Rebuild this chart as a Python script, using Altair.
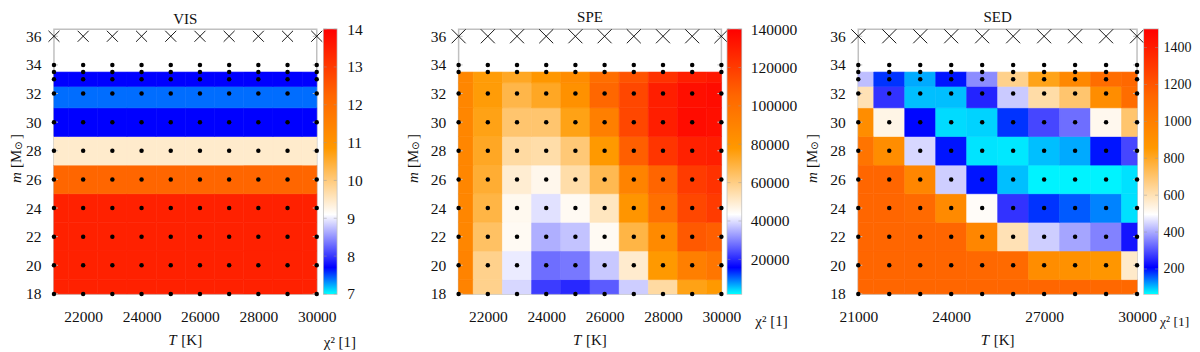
import altair as alt
import pandas as pd

temps = [21000, 22000, 23000, 24000, 25000, 26000, 27000, 28000, 29000, 30000]
t_edges = [21000, 21500, 22500, 23500, 24500, 25500, 26500, 27500, 28500, 29500, 30000]
masses = [18, 20, 22, 24, 26, 28, 30, 32, 33]
m_edges = [18, 19, 21, 23, 25, 27, 29, 31, 32.5, 33.5]
spe_m_edges = [18, 19, 21, 23, 25, 27, 29, 31, 32.75, 33.5]
m_ticks = [18, 20, 22, 24, 26, 28, 30, 32, 34, 36]

vis_rows = [13.44, 13.44, 13.44, 13.44, 12.25, 9.45, 7.7, 7.4, 7.7]
spe_rows = [
    [90000, 59000, 39100, 22300, 20100, 25600, 38000, 56000, 75000, 78000],
    [90000, 59000, 41200, 27700, 28800, 37500, 50000, 78000, 92000, 97000],
    [88000, 64500, 45000, 34700, 36900, 45000, 68500, 86000, 110000, 108000],
    [88000, 68500, 45500, 40100, 45000, 52000, 80000, 100000, 116000, 120000],
    [88000, 71000, 49500, 46000, 55000, 67000, 90000, 106000, 120000, 123000],
    [88000, 73000, 56000, 55000, 62000, 78000, 108000, 122000, 129000, 130000],
    [88000, 75000, 63000, 63000, 75000, 92000, 116000, 130000, 136000, 135000],
    [88000, 77000, 68000, 73000, 82000, 105000, 116000, 130000, 135000, 136000],
    [88000, 77000, 73000, 79000, 85000, 101000, 112000, 123000, 130000, 132000],
]
sed_rows = [
    [1140, 1140, 1140, 1140, 1140, 1140, 1140, 1140, 1130, 1130],
    [1140, 1140, 1140, 1140, 1130, 1120, 920, 900, 870, 570],
    [1140, 1140, 1140, 1140, 960, 600, 440, 394, 355, 231],
    [1140, 1140, 1120, 940, 505, 265, 180, 158, 135, 82],
    [1140, 1140, 960, 440, 197, 101, 72, 72, 72, 82],
    [1060, 920, 451, 197, 80, 78, 101, 113, 197, 287],
    [920, 530, 205, 85, 90, 180, 287, 332, 520, 700],
    [600, 265, 101, 101, 248, 436, 620, 700, 920, 1100],
    [422, 180, 113, 197, 366, 658, 820, 950, 1100, 1130],
]
dots_full = [18, 20, 22, 24, 26, 28, 30, 32, 33, 33.5, 34]
dots_spe = [18, 20, 22, 24, 26, 28, 30, 32, 33.5, 34]

pal_frac = [0, 0.1, 0.3, 0.55, 0.75, 1]
pal_col = ["#00ffff", "#0000ff", "#ffffff", "#ff9900", "#ff6600", "#ff0000"]
FONT = "Liberation Serif, DejaVu Sans"
GREY = "#c0c0c0"
H = 265


def color_scale(lo, hi):
    return alt.Scale(domain=[lo + f * (hi - lo) for f in pal_frac], range=pal_col,
                     interpolate="rgb", clamp=True)


def text_layer(text, x, y, size=15, style="normal", angle=0, align="left", baseline="alphabetic"):
    return alt.Chart(pd.DataFrame({"t": [text]})).mark_text(
        font=FONT, fontSize=size, fontStyle=style, angle=angle, align=align,
        baseline=baseline, color="#111").encode(
        text="t:N", x=alt.value(x), y=alt.value(y))


def panel(title, rows, edges, dots, w, x_ticks, xsize, rng):
    recs = []
    for i, row in enumerate(rows):
        for j, v in enumerate(row):
            recs.append({"t0": t_edges[j], "t1": t_edges[j + 1],
                         "m0": edges[i], "m1": edges[i + 1], "v": v})
    lo, hi = rng
    xs = alt.Scale(domain=[21000, 30000], nice=False, zero=False)
    ys = alt.Scale(domain=[18, 36.5], nice=False, zero=False)
    cs = color_scale(lo, hi)
    xa = alt.Axis(values=x_ticks, format="d", domain=False, ticks=False, grid=False,
                  labelFont=FONT, labelFontSize=15.5, labelColor="#111",
                  labelPadding=16, labelOverlap=False, labelFlush=False)
    ya = alt.Axis(values=m_ticks, format="d", domain=False, ticks=False, grid=False,
                  labelFont=FONT, labelFontSize=15.5, labelColor="#111",
                  labelPadding=13, labelOverlap=False, labelFlush=False)
    heat = alt.Chart(pd.DataFrame(recs)).mark_rect(strokeWidth=0.6).encode(
        x=alt.X("t0:Q", scale=xs, title=None, axis=xa),
        x2="t1:Q",
        y=alt.Y("m0:Q", scale=ys, title=None, axis=ya),
        y2="m1:Q",
        fill=alt.Fill("v:Q", scale=cs, legend=None),
        stroke=alt.Stroke("v:Q", scale=cs, legend=None),
    )
    tick_df = pd.DataFrame({"m": m_ticks})
    tick_l = alt.Chart(tick_df).mark_rule(color=GREY, strokeWidth=1).encode(
        y=alt.Y("m:Q", scale=ys, title=None, axis=ya), x=alt.value(0), x2=alt.value(4))
    tick_r = alt.Chart(tick_df).mark_rule(color=GREY, strokeWidth=1).encode(
        y=alt.Y("m:Q", scale=ys, title=None, axis=ya), x=alt.value(w - 4), x2=alt.value(w))
    pts = pd.DataFrame([{"t": t, "m": m} for t in temps for m in dots])
    dot = alt.Chart(pts).mark_circle(color="black", opacity=1, size=20).encode(
        x=alt.X("t:Q", scale=xs, title=None, axis=xa), y=alt.Y("m:Q", scale=ys, title=None, axis=ya))
    cross_df = pd.DataFrame({"t": temps, "m": [36] * len(temps)})
    cross = alt.Chart(cross_df).mark_point(
        shape="M-1,-1L1,1M-1,1L1,-1", filled=False, color="black", opacity=1,
        strokeWidth=0.9, size=xsize).encode(
        x=alt.X("t:Q", scale=xs, title=None, axis=xa), y=alt.Y("m:Q", scale=ys, title=None, axis=ya))
    mx = -38 if title == "VIS" else -46
    labels = [
        text_layer("T", w / 2 - 17, 316, style="italic"),
        text_layer("[K]", w / 2 - 4, 316),
        text_layer("m", mx, 154, style="italic", angle=270, baseline="middle"),
        text_layer("[M", mx, 139, angle=270, baseline="middle"),
        text_layer("⊙", mx + 3, 121, size=10, angle=270, baseline="middle"),
        text_layer("]", mx, 110, angle=270, baseline="middle"),
    ]
    return alt.layer(heat, tick_l, tick_r, dot, cross, *labels).properties(
        width=w, height=H,
        title=alt.TitleParams(title, font=FONT, fontSize=15, fontWeight="normal",
                              color="#111", offset=2))


def colorbar(lo, hi, ticks, w, pad, chi_x, chi_y, lab_size=15.5, chi_size=15):
    ys = alt.Scale(domain=[lo, hi], nice=False, zero=False)
    ya = alt.Axis(values=ticks, orient="right", format="d", domain=False, ticks=False,
                  grid=False, labelFont=FONT, labelFontSize=lab_size, labelColor="#111",
                  labelPadding=pad, labelOverlap=False, labelFlush=False)
    grad = alt.Gradient(gradient="linear", x1=0, x2=0, y1=1, y2=0,
                        stops=[alt.GradientStop(color=c, offset=f) for f, c in zip(pal_frac, pal_col)])
    bar = alt.Chart(pd.DataFrame({"a": [lo], "b": [hi]})).mark_rect(fill=grad).encode(
        y=alt.Y("a:Q", scale=ys, title=None, axis=ya),
        y2="b:Q", x=alt.value(0), x2=alt.value(w))
    tick_df = pd.DataFrame({"v": ticks})
    tl = alt.Chart(tick_df).mark_rule(color="#999", strokeWidth=0.8, opacity=0.6).encode(
        y=alt.Y("v:Q", scale=ys, title=None, axis=ya), x=alt.value(0), x2=alt.value(3))
    tr = alt.Chart(tick_df).mark_rule(color="#999", strokeWidth=0.8, opacity=0.6).encode(
        y=alt.Y("v:Q", scale=ys, title=None, axis=ya), x=alt.value(w - 3), x2=alt.value(w))
    chi = text_layer("χ² [1]", chi_x, chi_y, size=chi_size)
    return alt.layer(bar, tl, tr, chi).properties(width=w, height=H)


def spacer(w):
    return alt.Chart(pd.DataFrame({"a": [0]})).mark_point(opacity=0).encode(
        x=alt.value(0), y=alt.value(0)).properties(
        width=w, height=H, view=alt.ViewBackground(stroke="transparent"))


vis = panel("VIS", [[v] * 10 for v in vis_rows], m_edges, dots_full, 263,
            [22000, 24000, 26000, 28000, 30000], 121, (7, 14))
spe = panel("SPE", spe_rows, spe_m_edges, dots_spe, 263,
            [22000, 24000, 26000, 28000, 30000], 196, (2000, 140000))
sed = panel("SED", sed_rows, m_edges, dots_full, 279,
            [21000, 24000, 27000, 30000], 196, (65, 1500))

chart = alt.hconcat(
    vis, spacer(7), colorbar(7, 14, [7, 8, 9, 10, 11, 12, 13, 14], 13, 10, 0, 318),
    spacer(122),
    spe, spacer(6), colorbar(2000, 140000, [20000, 40000, 60000, 80000, 100000, 120000, 140000], 14, 9, 28, 297),
    spacer(117),
    sed, spacer(7), colorbar(65, 1500, [200, 400, 600, 800, 1000, 1200, 1400], 14, 5, 16, 297, 14, 13.5),
    spacing=0, bounds="flush",
).resolve_scale(fill="independent", stroke="independent").configure_view(
    stroke=GREY, strokeWidth=1.5).properties(padding={"left": 0, "top": 1, "right": 0, "bottom": 0})

chart.save("out.html", embed_options={"renderer": "svg", "actions": False})
